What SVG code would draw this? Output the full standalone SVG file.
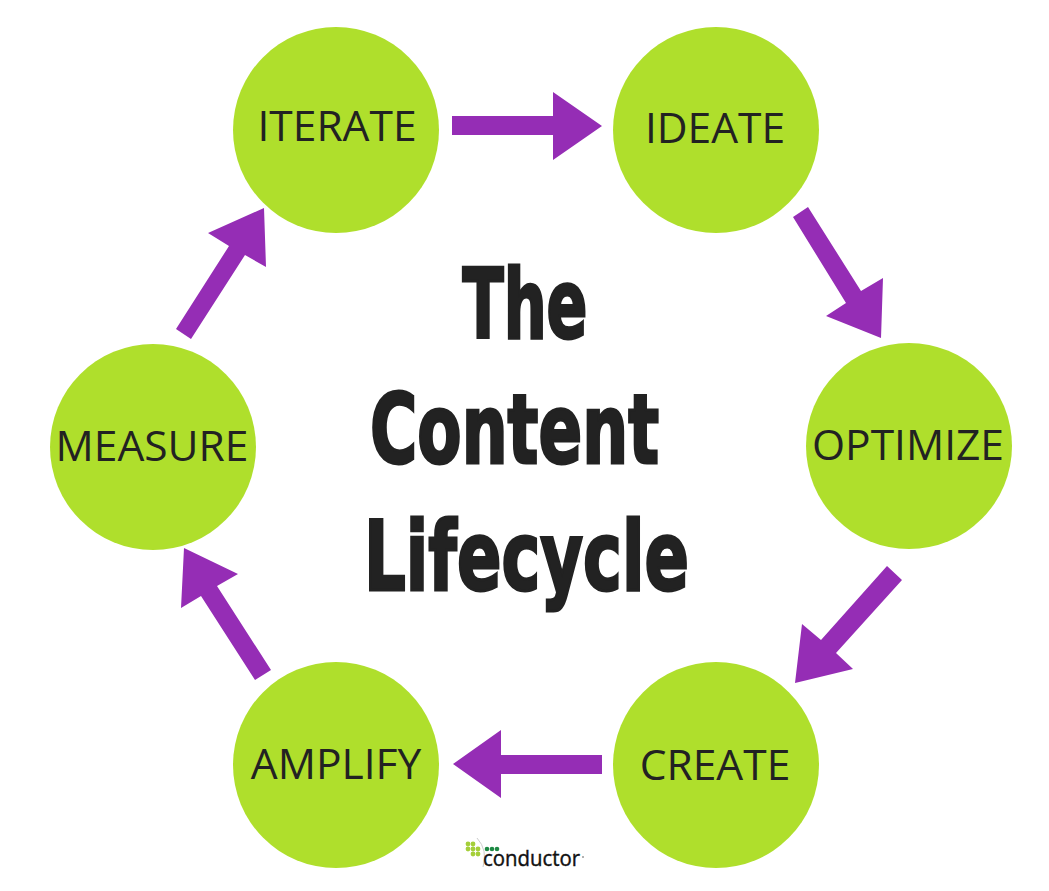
<svg xmlns="http://www.w3.org/2000/svg" width="1049" height="891" viewBox="0 0 1049 891">
<style>
.n{fill:#afdf2c}
.t{font-family:"Open Sans",sans-serif;font-size:42.5px;fill:#222;text-anchor:middle}
.a{fill:#952db5}
.h{font-family:"DejaVu Sans",sans-serif;font-weight:700;font-size:97px;fill:#222;stroke:#222;stroke-width:3px;text-anchor:middle}
</style>
<rect width="1049" height="891" fill="#fff"/>
<g id="connectors">
<polygon class="a" points="452,116 553,116 553,92 602,126 553,160 553,135 452,135"/>
<polygon class="a" points="808,207 861,291 883,278 881,338 826,316 846,303 793,217"/>
<polygon class="a" points="902,580 836,653 853,669 795,683 802,624 821,640 887,566"/>
<polygon class="a" points="602,755 501,755 501,730 453,764 501,798 501,774 602,774"/>
<polygon class="a" points="255,680 201,596 181,608 184,548 238,574 217,586 271,670"/>
<polygon class="a" points="176,329 229,246 208,233 264,208 266,267 245,255 191,339"/>
</g>
<g id="iterate"><circle class="n" cx="336" cy="130" r="103"/><text class="t" x="337" y="141">ITERATE</text></g>
<g id="ideate"><circle class="n" cx="716" cy="130" r="103"/><text class="t" x="715" y="142.500">IDEATE</text></g>
<g id="optimize"><circle class="n" cx="909" cy="446" r="103"/><text class="t" x="908" y="460">OPTIMIZE</text></g>
<g id="create"><circle class="n" cx="716" cy="765" r="103"/><text class="t" x="715" y="780">CREATE</text></g>
<g id="amplify"><circle class="n" cx="336" cy="765" r="103"/><text class="t" x="336" y="779">AMPLIFY</text></g>
<g id="measure"><circle class="n" cx="153" cy="447" r="103"/><text class="t" x="152" y="461">MEASURE</text></g>
<g id="title">
<text class="h" x="525" y="337.500" textLength="125" lengthAdjust="spacingAndGlyphs">The</text>
<text class="h" x="514.500" y="463" textLength="289" lengthAdjust="spacingAndGlyphs">Content</text>
<text class="h" x="526.500" y="589.500" textLength="325" lengthAdjust="spacingAndGlyphs">Lifecycle</text>
</g>
<g id="logo">
<g fill="#a5cf3a"><circle cx="468" cy="844" r="2.4"/><circle cx="473" cy="844" r="2.4"/><circle cx="468" cy="849" r="2.4"/><circle cx="473" cy="849" r="2.4"/><circle cx="478" cy="849" r="2.4"/><circle cx="473" cy="854" r="2.4"/><circle cx="478" cy="854" r="2.4"/></g>
<g fill="#1e8a44"><circle cx="487" cy="849" r="2.3"/><circle cx="492" cy="849" r="2.3"/><circle cx="497" cy="849" r="2.3"/></g>
<path d="M477,838 Q488,850 483,867" fill="none" stroke="#ccc"/>
<text x="483" y="866" font-family="Open Sans,sans-serif" font-size="21" fill="#111" stroke="#111" stroke-width=".4" textLength="97" lengthAdjust="spacingAndGlyphs">conductor</text>
<circle cx="583" cy="857" r="1" fill="#999"/>
</g>
</svg>
